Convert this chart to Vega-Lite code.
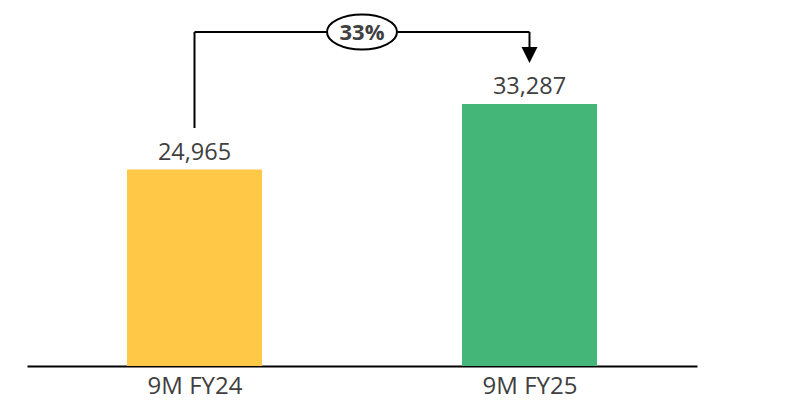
{
  "$schema": "https://vega.github.io/schema/vega-lite/v6.json",
  "width": 670,
  "height": 366,
  "autosize": {"type": "none"},
  "padding": {"left": 27, "right": 102, "top": 0, "bottom": 36},
  "background": "white",
  "config": {"view": {"stroke": null}, "font": "Open Sans"},
  "datasets": {
    "bars": [
      {"x": "9M FY24", "value": 24965},
      {"x": "9M FY25", "value": 33287}
    ],
    "vsegs": [
      {"x": "9M FY24", "y": 30238, "y2": 42434},
      {"x": "9M FY25", "y": 42434, "y2": 40529}
    ],
    "hsegs": [
      {"x": "9M FY24", "x2": "9M FY25", "y": 42434}
    ],
    "arrow": [
      {"x": "9M FY25", "y": 39512}
    ],
    "badge": [
      {"x": "mid", "y": 42434, "label": "33%"}
    ]
  },
  "layer": [
    {
      "data": {"name": "bars"},
      "mark": {"type": "bar", "width": 135},
      "encoding": {
        "x": {
          "field": "x", "type": "nominal",
          "scale": {"type": "point", "domain": ["9M FY24", "mid", "9M FY25"], "padding": 1},
          "axis": {
            "title": null, "labelAngle": 0, "ticks": false, "grid": false,
            "domain": true, "domainColor": "#000000", "domainWidth": 2,
            "labelFont": "Open Sans", "labelFontSize": 24, "labelColor": "#404040",
            "labelPadding": 8,
            "labelExpr": "datum.value == 'mid' ? '' : datum.label"
          }
        },
        "y": {
          "field": "value", "type": "quantitative",
          "scale": {"domain": [0, 46500], "nice": false, "zero": true},
          "axis": null
        },
        "color": {
          "field": "x", "type": "nominal",
          "scale": {"domain": ["9M FY24", "9M FY25"], "range": ["#FFC846", "#44B678"]},
          "legend": null
        }
      }
    },
    {
      "data": {"name": "bars"},
      "mark": {"type": "text", "baseline": "alphabetic", "dy": -10, "fontSize": 23.5, "color": "#404040", "font": "Open Sans"},
      "encoding": {
        "x": {"field": "x", "type": "nominal"},
        "y": {"field": "value", "type": "quantitative"},
        "text": {"field": "value", "type": "quantitative", "format": ","}
      }
    },
    {
      "data": {"name": "vsegs"},
      "mark": {"type": "rule", "color": "#000000", "strokeWidth": 2},
      "encoding": {
        "x": {"field": "x", "type": "nominal"},
        "y": {"field": "y", "type": "quantitative"},
        "y2": {"field": "y2"}
      }
    },
    {
      "data": {"name": "hsegs"},
      "mark": {"type": "rule", "color": "#000000", "strokeWidth": 2},
      "encoding": {
        "x": {"field": "x", "type": "nominal"},
        "x2": {"field": "x2"},
        "y": {"field": "y", "type": "quantitative"}
      }
    },
    {
      "data": {"name": "arrow"},
      "mark": {"type": "point", "shape": "M-1,-1L1,-1L0,1Z", "filled": true, "color": "#000000", "size": 256, "opacity": 1},
      "encoding": {
        "x": {"field": "x", "type": "nominal"},
        "y": {"field": "y", "type": "quantitative"}
      }
    },
    {
      "data": {"name": "badge"},
      "mark": {"type": "point", "shape": "M-1,0C-1,-0.2762 -0.5523,-0.5 0,-0.5C0.5523,-0.5 1,-0.2762 1,0C1,0.2762 0.5523,0.5 0,0.5C-0.5523,0.5 -1,0.2762 -1,0Z", "filled": true, "fill": "#FFFFFF", "stroke": "#000000", "strokeWidth": 2, "size": 4900, "opacity": 1, "fillOpacity": 1},
      "encoding": {
        "x": {"field": "x", "type": "nominal"},
        "y": {"field": "y", "type": "quantitative"}
      }
    },
    {
      "data": {"name": "badge"},
      "mark": {"type": "text", "baseline": "middle", "align": "center", "fontSize": 22, "fontWeight": "bold", "color": "#404040", "font": "Open Sans", "dy": 1},
      "encoding": {
        "x": {"field": "x", "type": "nominal"},
        "y": {"field": "y", "type": "quantitative"},
        "text": {"field": "label"}
      }
    }
  ]
}
